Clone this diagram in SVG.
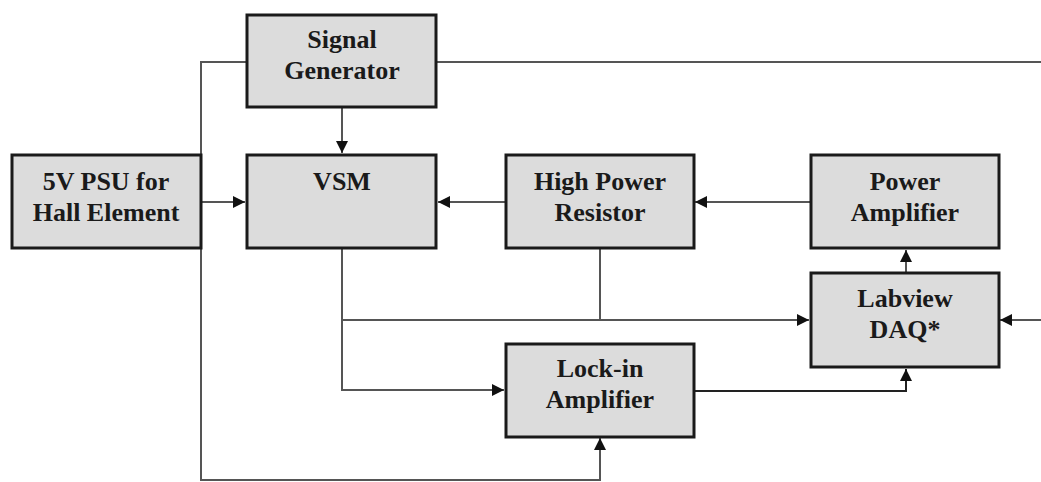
<svg xmlns="http://www.w3.org/2000/svg" width="1041" height="482" viewBox="0 0 1041 482">
<style>
.box{fill:#dcdcdc;stroke:#1a1a1a;stroke-width:3}
.t{font-family:"Liberation Serif","Times New Roman",serif;font-weight:bold;font-size:26px;fill:#1a1a1a;text-anchor:middle}
.c{fill:none;stroke:#555;stroke-width:2}
</style>
<defs>
<marker id="ah" viewBox="0 0 12 12" refX="12" refY="6" markerWidth="12" markerHeight="12" markerUnits="userSpaceOnUse" orient="auto">
<path d="M0,0 L12,6 L0,12 Z" fill="#111"/>
</marker>
</defs>
<g id="connectors">
<polyline class="c" points="246,62 201,62 201,480 600,480 600,438" marker-end="url(#ah)"/>
<line class="c" x1="437" y1="62" x2="1041" y2="62"/>
<line class="c" x1="342" y1="108" x2="342" y2="153" marker-end="url(#ah)"/>
<line class="c" x1="201" y1="202" x2="245" y2="202" marker-end="url(#ah)"/>
<line class="c" x1="506" y1="202" x2="438" y2="202" marker-end="url(#ah)"/>
<line class="c" x1="811" y1="202" x2="695" y2="202" marker-end="url(#ah)"/>
<line class="c" x1="906" y1="272" x2="906" y2="250" marker-end="url(#ah)"/>
<polyline class="c" points="342,249 342,390 504,390" marker-end="url(#ah)"/>
<line class="c" x1="342" y1="320" x2="809" y2="320" marker-end="url(#ah)"/>
<line class="c" x1="600" y1="249" x2="600" y2="320"/>
<polyline class="c" style="stroke:#222" points="694,391 906,391 906,369" marker-end="url(#ah)"/>
<line class="c" x1="1041" y1="320" x2="1000" y2="320" marker-end="url(#ah)"/>
</g>
<g id="signal-generator">
<rect class="box" x="247" y="15" width="189" height="92"/>
<text class="t" x="342" y="48">Signal</text>
<text class="t" x="342" y="79">Generator</text>
</g>
<g id="psu">
<rect class="box" x="12" y="155" width="189" height="93"/>
<text class="t" x="106" y="190">5V PSU for</text>
<text class="t" x="106" y="221">Hall Element</text>
</g>
<g id="vsm">
<rect class="box" x="247" y="155" width="189" height="93"/>
<text class="t" x="342" y="190">VSM</text>
</g>
<g id="high-power-resistor">
<rect class="box" x="506" y="155" width="188" height="93"/>
<text class="t" x="600" y="190">High Power</text>
<text class="t" x="600" y="221">Resistor</text>
</g>
<g id="power-amplifier">
<rect class="box" x="811" y="155" width="188" height="93"/>
<text class="t" x="905" y="190">Power</text>
<text class="t" x="905" y="221">Amplifier</text>
</g>
<g id="labview-daq">
<rect class="box" x="811" y="273" width="188" height="94"/>
<text class="t" x="905" y="307">Labview</text>
<text class="t" x="905" y="338">DAQ*</text>
</g>
<g id="lock-in-amplifier">
<rect class="box" x="506" y="344" width="188" height="93"/>
<text class="t" x="600" y="377">Lock-in</text>
<text class="t" x="600" y="408">Amplifier</text>
</g>
</svg>
